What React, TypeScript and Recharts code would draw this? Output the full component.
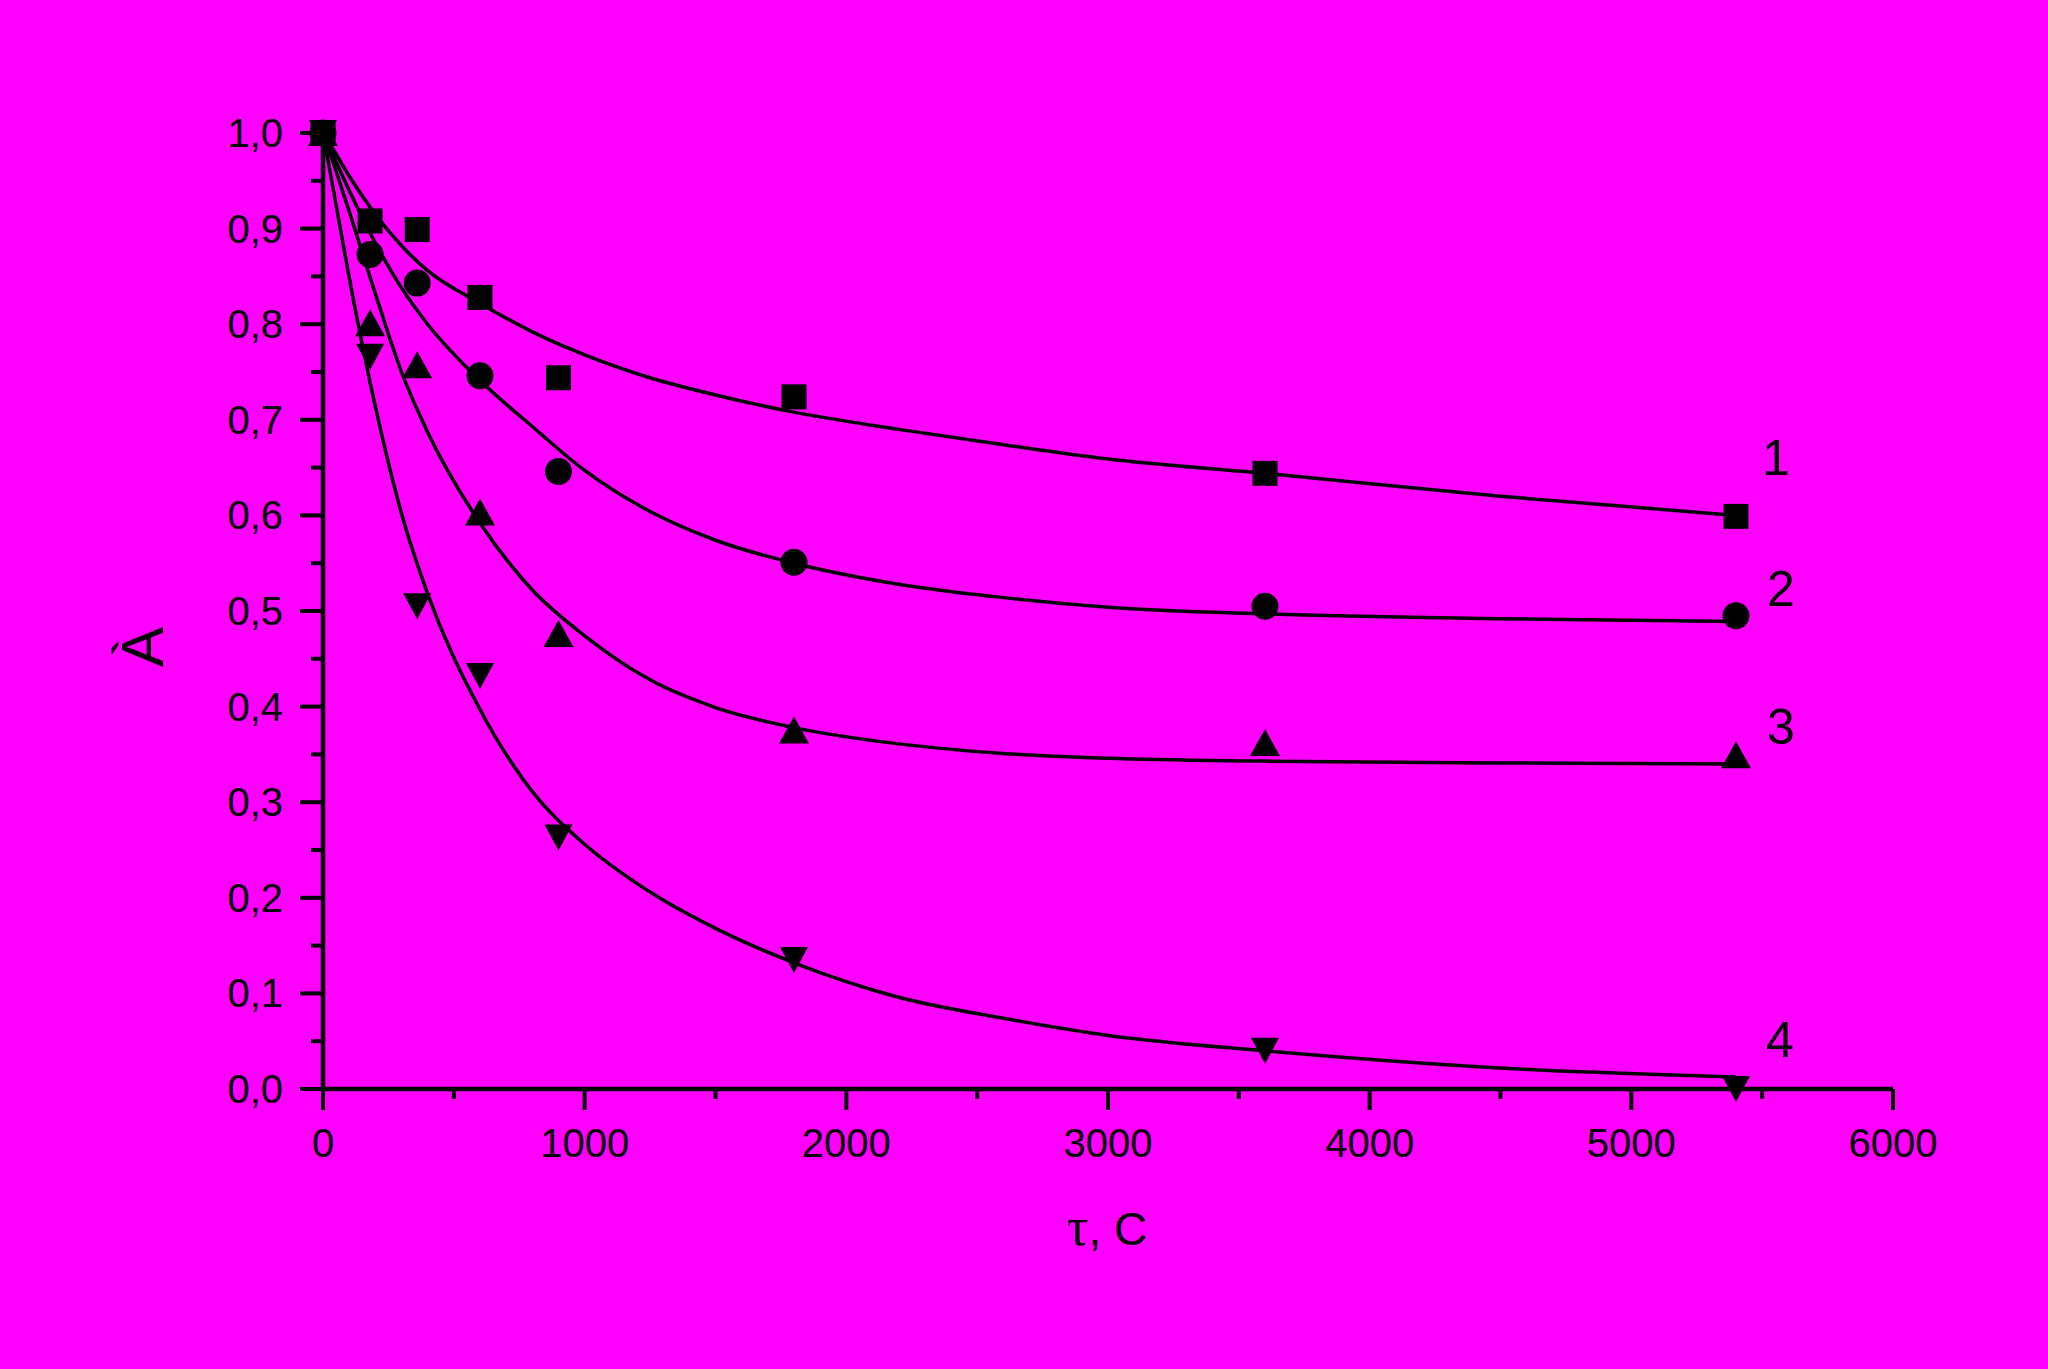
import { ComposedChart, Line, Scatter, XAxis, YAxis } from 'recharts'

// measured points, t in seconds
const SAMPLE_T = [0, 180, 360, 600, 900, 1800, 3600, 5400]
const SERIES_1 = [1.0, 0.908, 0.899, 0.828, 0.744, 0.724, 0.644, 0.599]
const SERIES_2 = [1.0, 0.873, 0.843, 0.746, 0.646, 0.551, 0.505, 0.495]
const SERIES_3 = [1.0, 0.801, 0.757, 0.603, 0.476, 0.375, 0.362, 0.349]
const SERIES_4 = [1.0, 0.766, 0.505, 0.432, 0.263, 0.135, 0.040, 0.0]

// fitted curves
const FIT_T = [0, 50, 100, 200, 300, 400, 600, 800, 1000, 1250, 1500, 1800, 2200, 2600, 3000, 3600, 4500, 5400]
const FIT_1 = [1.0, 0.978, 0.955, 0.915, 0.882, 0.856, 0.822, 0.792, 0.768, 0.744, 0.726, 0.708, 0.690, 0.674, 0.659, 0.644, 0.620, 0.600]
const FIT_2 = [1.0, 0.970, 0.940, 0.885, 0.838, 0.800, 0.741, 0.693, 0.647, 0.604, 0.574, 0.550, 0.528, 0.514, 0.504, 0.497, 0.492, 0.489]
const FIT_3 = [1.0, 0.960, 0.918, 0.832, 0.750, 0.687, 0.592, 0.522, 0.474, 0.428, 0.399, 0.378, 0.361, 0.351, 0.346, 0.343, 0.341, 0.340]
const FIT_4 = [1.0, 0.925, 0.849, 0.714, 0.602, 0.518, 0.397, 0.311, 0.256, 0.206, 0.168, 0.132, 0.096, 0.074, 0.056, 0.040, 0.022, 0.0126]

const X_TICKS = [0, 500, 1000, 1500, 2000, 2500, 3000, 3500, 4000, 4500, 5000, 5500, 6000]
const Y_TICKS = [0, 0.05, 0.1, 0.15, 0.2, 0.25, 0.3, 0.35, 0.4, 0.45, 0.5, 0.55, 0.6, 0.65, 0.7, 0.75, 0.8, 0.85, 0.9, 0.95, 1]

const CURVE_LABELS = ['1', '2', '3', '4']

const toPoints = (ts: number[], vs: number[]) => ts.map((t, i) => ({ t, v: vs[i] }))

const FONT = '"Liberation Sans", Arial, sans-serif'
const INK = '#000'

const XTick = ({ x, y, payload }: any) => {
  const major = payload.value % 1000 === 0
  return (
    <g>
      <line x1={x} x2={x} y1={y} y2={y + (major ? 21 : 10)} stroke={INK} strokeWidth={4} />
      {major && (
        <text x={x} y={y + 54} textAnchor="middle" dominantBaseline="central" fontSize={40} fontFamily={FONT} fill={INK}>
          {payload.value}
        </text>
      )}
    </g>
  )
}

const YTick = ({ x, y, payload }: any) => {
  const major = Math.round(payload.value * 20) % 2 === 0
  return (
    <g>
      <line x1={x} x2={x - (major ? 23 : 12)} y1={y} y2={y} stroke={INK} strokeWidth={4} />
      {major && (
        <text x={x - 40} y={y} textAnchor="end" dominantBaseline="central" fontSize={40} fontFamily={FONT} fill={INK}>
          {payload.value.toFixed(1).replace('.', ',')}
        </text>
      )}
    </g>
  )
}

const square = ({ cx, cy }: any) => <rect x={cx - 12.5} y={cy - 12.5} width={25} height={25} fill={INK} />
const circle = ({ cx, cy }: any) => <circle cx={cx} cy={cy} r={13.5} fill={INK} />
const triUp = ({ cx, cy }: any) => (
  <polygon points={`${cx},${cy - 14} ${cx + 15},${cy + 13} ${cx - 15},${cy + 13}`} fill={INK} />
)
const triDown = ({ cx, cy }: any) => (
  <polygon points={`${cx - 14},${cy - 13} ${cx + 14},${cy - 13} ${cx},${cy + 13}`} fill={INK} />
)

const fits = [FIT_1, FIT_2, FIT_3, FIT_4]
const samples = [SERIES_1, SERIES_2, SERIES_3, SERIES_4]
const shapes = [square, circle, triUp, triDown]
const labelPos = [[1776, 458], [1781, 589], [1781, 727], [1780, 1040]]

export default function App() {
  return (
    <div style={{ position: 'absolute', left: 0, top: 0, width: 2048, height: 1369, background: '#ff00ff' }}>
      <ComposedChart width={2048} height={1369} margin={{ top: 133, right: 155, left: 223, bottom: 180 }}>
        <XAxis
          type="number"
          dataKey="t"
          domain={[0, 6000]}
          ticks={X_TICKS}
          interval={0}
          height={100}
          tickSize={0}
          tickMargin={0}
          tickLine={false}
          axisLine={{ stroke: INK, strokeWidth: 4.5 }}
          tick={<XTick />}
        />
        <YAxis
          type="number"
          dataKey="v"
          domain={[0, 1]}
          ticks={Y_TICKS}
          interval={0}
          width={100}
          tickSize={0}
          tickMargin={0}
          tickLine={false}
          axisLine={{ stroke: INK, strokeWidth: 4.5 }}
          tick={<YTick />}
        />
        {fits.map((f, i) => (
          <Line
            key={'fit' + i}
            data={toPoints(FIT_T, f)}
            dataKey="v"
            type="monotone"
            stroke={INK}
            strokeWidth={3.5}
            dot={false}
            activeDot={false}
            isAnimationActive={false}
          />
        ))}
        {samples.map((s, i) => (
          <Scatter
            key={'pts' + i}
            data={toPoints(SAMPLE_T, s)}
            dataKey="v"
            shape={shapes[i]}
            isAnimationActive={false}
          />
        ))}
      </ComposedChart>

      <svg width={2048} height={1369} style={{ position: 'absolute', left: 0, top: 0, pointerEvents: 'none' }}>
        {CURVE_LABELS.map((l, i) => (
          <text
            key={l}
            x={labelPos[i][0]}
            y={labelPos[i][1]}
            textAnchor="middle"
            dominantBaseline="central"
            fontSize={50}
            fontFamily={FONT}
            fill={INK}
          >
            {l}
          </text>
        ))}
        <text x={1107} y={1245} textAnchor="middle" fontSize={46} fontFamily={FONT} fill={INK}>
          <tspan fontFamily='"Liberation Serif", serif' fontSize={54}>τ</tspan>
          <tspan>, С</tspan>
        </text>
        <text
          x={142}
          y={647}
          transform="rotate(-90 142 647)"
          textAnchor="middle"
          dominantBaseline="central"
          fontSize={60}
          fontFamily={FONT}
          fill={INK}
        >
          À
        </text>
      </svg>
    </div>
  )
}
